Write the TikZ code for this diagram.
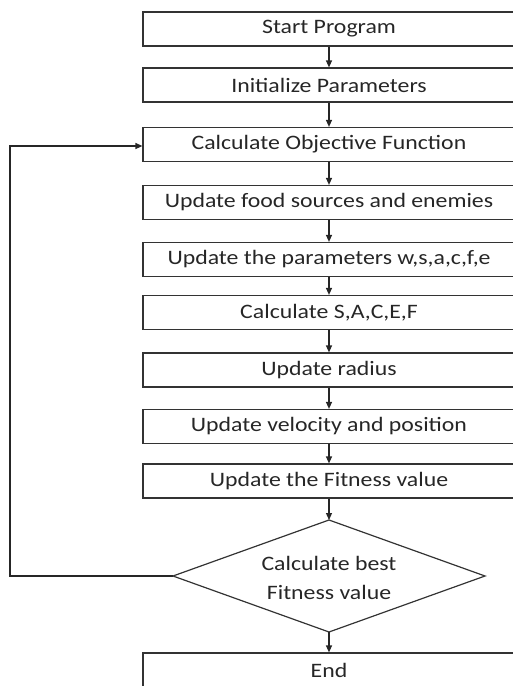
\documentclass[tikz,border=0pt]{standalone}
\usepackage{fontspec}
\setmainfont[FakeStretch=1.16]{Carlito}
\usetikzlibrary{arrows.meta}
\begin{document}
\begin{tikzpicture}[x=1pt,y=-1pt,
  box/.style={draw=black!80,line width=1.2pt,rectangle,minimum width=372pt,minimum height=34pt,inner sep=0pt,anchor=center,text=black!85,font=\fontsize{20.5}{29}\selectfont},
  dtext/.style={inner sep=0pt,text=black!85,align=center,font=\fontsize{20.5}{29}\selectfont},
  shape line/.style={draw=black!80,line width=1.2pt},
  arr/.style={-{Triangle[length=7pt,width=6pt]},line width=1.2pt,black!85}]
\useasboundingbox (0,0) rectangle (513,686);
\clip (0,0) rectangle (513,686);
\node[box] (b1) at (329,29) {Start Program};
\node[box] (b2) at (329,85) {Initialize Parameters};
\node[box] (b3) at (329,144.5) {Calculate Objective Function};
\node[box] (b4) at (329,202.5) {Update food sources and enemies};
\node[box] (b5) at (329,259.5) {Update the parameters w,s,a,c,f,e};
\node[box] (b6) at (329,312.5) {Calculate S,A,C,E,F};
\node[box] (b7) at (329,370) {Update radius};
\node[box] (b8) at (329,426.5) {Update velocity and position};
\node[box] (b9) at (329,481) {Update the Fitness value};
\coordinate (dt) at (329,520);
\coordinate (db) at (329,632);
\coordinate (dl) at (173,576);
\coordinate (dr) at (485,576);
\draw[shape line] (dt) -- (dr) -- (db) -- (dl) -- cycle;
\node[dtext] (d) at (329,578) {Calculate best\\Fitness value};
\node[box] (b10) at (329,670) {End};
\draw[arr] (b1) -- (b2);
\draw[arr] (b2) -- (b3);
\draw[arr] (b3) -- (b4);
\draw[arr] (b4) -- (b5);
\draw[arr] (b5) -- (b6);
\draw[arr] (b6) -- (b7);
\draw[arr] (b7) -- (b8);
\draw[arr] (b8) -- (b9);
\draw[arr] (b9) -- (dt);
\draw[arr] (db) -- (b10);
\coordinate (lb) at (10,576);
\coordinate (lt) at (10,146);
\draw[arr] (dl) -- (lb) -- (lt) -- (b3.west |- lt);
\end{tikzpicture}
\end{document}
